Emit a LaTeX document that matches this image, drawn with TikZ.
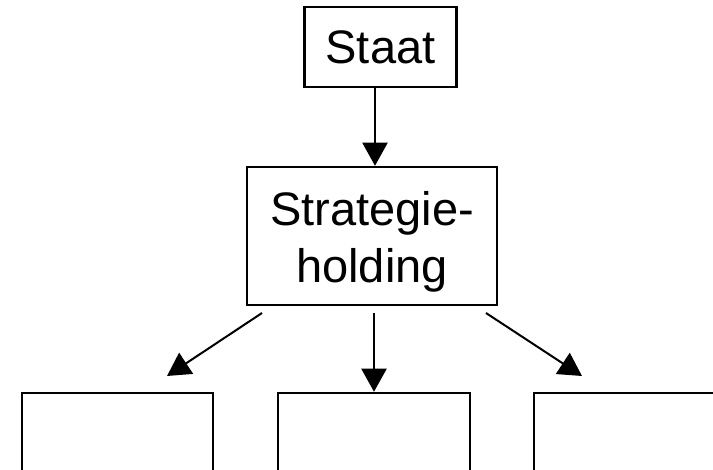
\documentclass[tikz,border=0pt]{standalone}
\usepackage{fontspec}
\setmainfont{Liberation Sans}
\usetikzlibrary{arrows.meta}
\begin{document}
\begin{tikzpicture}[x=1pt,y=-1pt,
  box/.style={draw=black, line width=2.5pt, inner sep=0pt},
  lbl/.style={font=\fontsize{47}{57}\selectfont, align=center, inner sep=0pt},
  arr/.style={line width=2pt, -{Triangle[length=23pt,width=25pt]}}]
\clip (0,0) rectangle (713,470);
\fill[white] (0,0) rectangle (713,470);

% top: state
\node[box, lbl, minimum width=152pt, minimum height=80pt] (staat) at (380.5,47) {Staat};

% strategic holding
\node[box, minimum width=250pt, minimum height=138pt] (holding) at (372,236) {};
\node[lbl] (holdingtext) at (372,241.5) {Strategie-\\holding};

% subsidiaries (cut off at the lower edge)
\node[box, minimum width=191pt, minimum height=200pt] (sub1) at (117.5,493) {};
\node[box, minimum width=192pt, minimum height=200pt] (sub2) at (374,493) {};
\node[box, minimum width=192pt, minimum height=200pt] (sub3) at (630,493) {};

% connector anchors
\coordinate (top) at (375,0);
\coordinate (mid) at (374,0);
\coordinate (s1) at (262,313);
\coordinate (s2) at (374,313);
\coordinate (s3) at (486,313);
\coordinate (e1) at (167,376);
\coordinate (e3) at (582,376);

\draw[arr] (staat.south -| top) -- (holding.north -| top);
\draw[arr] (s1) -- (e1);
\draw[arr] (s2) -- (sub2.north -| mid);
\draw[arr] (s3) -- (e3);
\end{tikzpicture}
\end{document}
